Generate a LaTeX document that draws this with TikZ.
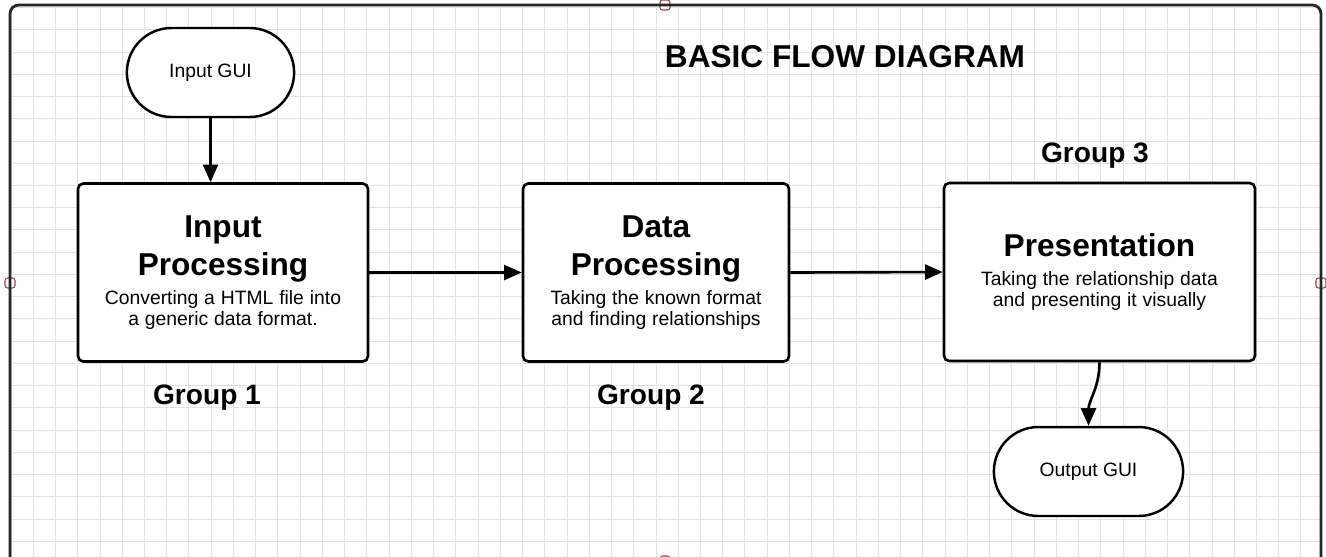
\documentclass[tikz,border=0pt]{standalone}
\usepackage{fontspec}
\setmainfont{Liberation Sans}
\usetikzlibrary{arrows.meta,shapes.misc}

\definecolor{gridgray}{RGB}{226,226,226}
\definecolor{handlered}{RGB}{140,72,72}

\newcommand{\headfont}{\fontsize{18}{21.5}\selectfont\bfseries}
\newcommand{\notefont}{\fontsize{11}{13}\selectfont\mdseries}

\tikzset{
  gridline/.style={line width=0.5pt, color=gridgray},
  sheet/.style={line width=1.6pt, color=black!85, rounded corners=5pt},
  handle/.style={draw=handlered, fill=white, line width=0.6pt, rounded corners=1.5pt},
  procbox/.style={draw, fill=white, line width=1.5pt, rounded corners=3pt,
    minimum height=3.56cm, text width=#1, inner sep=0pt, align=center},
  terminal/.style={draw, fill=white, rounded rectangle, line width=1.4pt,
    minimum height=1.78cm, font=\fontsize{11}{13}\selectfont},
  grouplabel/.style={font=\fontsize{16}{19}\selectfont\bfseries, anchor=base},
  flow/.style={-{Triangle[length=10pt,width=8.5pt]}, line width=1.5pt},
}

\begin{document}
\begin{tikzpicture}[x=0.02cm, y=-0.02cm]
  %%%%% SHEET %%%%%
  \clip (0,0) rectangle (1326,556);
  \fill[white] (0,0) rectangle (1326,556);

  \foreach \i in {0,...,58}
    \draw[gridline] ({11+22.24*\i},5) -- ({11+22.24*\i},570);
  \foreach \j in {0,...,25}
    \draw[gridline] (10,{7.5+22.24*\j}) -- (1321,{7.5+22.24*\j});

  \draw[handle] (660,0) rectangle (670,10);
  \draw[handle] (5,278) rectangle (15,288);
  \draw[handle] (1316,278) rectangle (1326,288);
  \draw[handle] (660,556) rectangle (670,566);
  \draw[sheet] (10,5) rectangle (1321,575);

  %%%%% FLOW %%%%%
  \node[font=\fontsize{18}{21}\selectfont\bfseries, anchor=base] (title) at (845,67) {BASIC FLOW DIAGRAM};

  \node[terminal, minimum width=3.58cm] (ingui) at (210.5,72.5) {Input GUI};

  \node[procbox=5.8cm] (inproc) at (223,272.5)
    {\headfont Input\\Processing\par\vspace{3.4pt}
     \notefont Converting a HTML file into\\a generic data format.};
  \node[procbox=5.32cm] (dataproc) at (656,272.5)
    {\headfont Data\\Processing\par\vspace{3.4pt}
     \notefont Taking the known format\\and finding relationships};
  \node[procbox=6.22cm] (present) at (1099.5,272)
    {\headfont Presentation\par\vspace{3.4pt}
     \notefont Taking the relationship data\\and presenting it visually};

  \node[terminal, minimum width=4.02cm] (outgui) at (1088.5,471.5) {Output GUI};

  \node[grouplabel] (grp1) at (207,404) {Group 1};
  \node[grouplabel] (grp2) at (651,404) {Group 2};
  \node[grouplabel] (grp3) at (1095,162) {Group 3};

  \draw[flow] (ingui.south) -- (ingui.south |- inproc.north);
  \draw[flow] (inproc.east) -- (dataproc.west);
  \draw[flow] (dataproc.east) -- (present.west);
  \draw[flow] (present.south) to[out=-90, in=90] (outgui.north);
\end{tikzpicture}
\end{document}
